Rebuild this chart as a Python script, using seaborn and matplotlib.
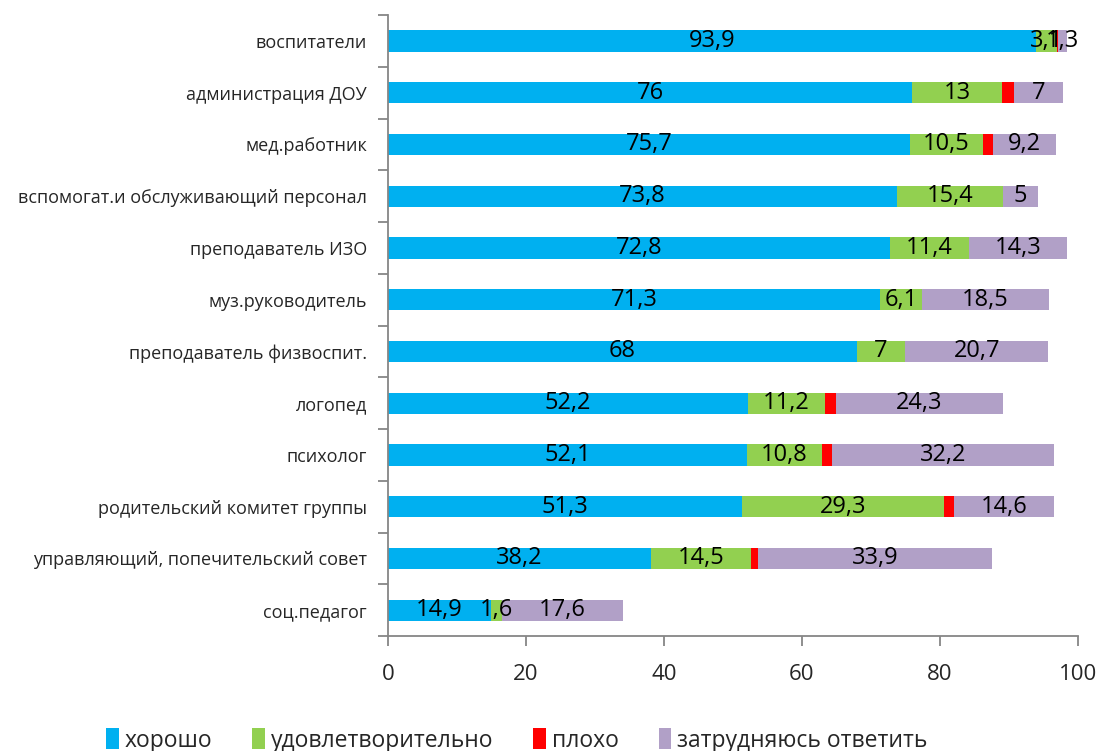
import numpy as np
import pandas as pd
import matplotlib
matplotlib.use("Agg")
import matplotlib.pyplot as plt
import seaborn as sns
from matplotlib.patches import Patch

# Data (percent), top to bottom as in the chart
categories = [
    "воспитатели",
    "администрация ДОУ",
    "мед.работник",
    "вспомогат.и обслуживающий персонал",
    "преподаватель ИЗО",
    "муз.руководитель",
    "преподаватель физвоспит.",
    "логопед",
    "психолог",
    "родительский комитет группы",
    "управляющий, попечительский совет",
    "соц.педагог",
]
good = [93.9, 76, 75.7, 73.8, 72.8, 71.3, 68, 52.2, 52.1, 51.3, 38.2, 14.9]
satisfactory = [3.1, 13, 10.5, 15.4, 11.4, 6.1, 7, 11.2, 10.8, 29.3, 14.5, 1.6]
bad = [0.1, 1.8, 1.5, 0, 0, 0, 0, 1.5, 1.5, 1.4, 1.0, 0]
hard_to_say = [1.3, 7, 9.2, 5, 14.3, 18.5, 20.7, 24.3, 32.2, 14.6, 33.9, 17.6]

series_names = ["хорошо", "удовлетворительно", "плохо", "затрудняюсь ответить"]
series_values = [good, satisfactory, bad, hard_to_say]
colors = ["#00B0F0", "#92D050", "#FF0000", "#B1A0C7"]
show_labels = [True, True, False, True]
x_ticks = [0, 20, 40, 60, 80, 100]

sns.set_theme(style="white")
plt.rcParams["font.family"] = ["Open Sans", "DejaVu Sans"]

fig = plt.figure(figsize=(11.02, 7.51), dpi=100)
ax = fig.add_axes([0.352, 0.153, 0.626, 0.827])

df = pd.DataFrame({"category": categories})
for name, vals in zip(series_names, series_values):
    df[name] = vals
cum = df[series_names].cumsum(axis=1)

# stacked bars: draw cumulative totals from the last series backwards
for i in range(len(series_names) - 1, -1, -1):
    sns.barplot(x=cum[series_names[i]], y=df["category"], color=colors[i],
                width=0.41, saturation=1, ax=ax, orient="h", linewidth=0)

# segment labels
for i, name in enumerate(series_names):
    if not show_labels[i]:
        continue
    starts = cum[name] - df[name]
    for j, v in enumerate(df[name]):
        if v <= 0:
            continue
        txt = f"{v:g}".replace(".", ",")
        ax.text(starts[j] + v / 2, j, txt, ha="center", va="center",
                fontsize=17, color="black")

ax.set_xlim(0, 100)
ax.set_ylim(len(categories) - 0.5, -0.5)
ax.set_xticks(x_ticks)
ax.set_xlabel("")
ax.set_ylabel("")

for side in ["top", "right"]:
    ax.spines[side].set_visible(False)
for side in ["left", "bottom"]:
    ax.spines[side].set_color("#868686")
    ax.spines[side].set_linewidth(1.3)

ax.tick_params(axis="x", labelsize=16, length=7, width=1.3, color="#868686",
               direction="out", pad=13, bottom=True)
ax.tick_params(axis="y", labelsize=13, length=0, pad=15)
ax.set_yticks(np.arange(-0.5, len(categories), 1.0), minor=True)
ax.tick_params(axis="y", which="minor", length=7, width=1.3, color="#868686",
               direction="out", left=True)

handles = [Patch(facecolor=c, edgecolor="none") for c in colors]
fig.legend(handles, series_names, loc="center", ncol=4, frameon=False,
           bbox_to_anchor=(0.469, 0.014), fontsize=16.5, handlelength=0.55,
           handleheight=1.0, handletextpad=0.25, columnspacing=1.75)

fig.savefig("out.png", dpi=100)
